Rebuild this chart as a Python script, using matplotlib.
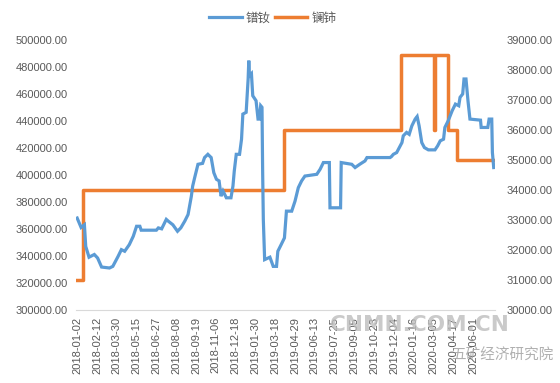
import matplotlib
matplotlib.use("Agg")
import matplotlib.pyplot as plt
from matplotlib.ticker import FuncFormatter, MultipleLocator

# ---- data (trading-day index, value) ----
pn_idx = [0, 6, 11, 13, 18, 26, 31, 37, 49, 54, 62, 67, 72, 79, 85, 90, 95, 97,
          120, 123, 128, 135, 138, 145, 152, 157, 163, 168, 173, 175, 178, 183,
          190, 193, 198, 203, 207, 211, 215, 218, 221, 226, 233, 236, 238, 241,
          246, 249, 251, 256, 259, 260, 261, 264, 266, 271, 274, 276, 278, 280,
          281, 282, 284, 292, 297, 302, 304, 309, 314, 317, 325, 330, 335, 340,
          345, 363, 368, 373, 382, 383, 399, 400, 416, 421, 428, 436, 439, 474,
          476, 479, 484, 488, 492, 494, 499, 503, 507, 512, 515, 518, 522, 526,
          532, 542, 546, 550, 555, 557, 562, 568, 573, 578, 580, 584, 586, 589,
          592, 595, 611, 612, 622, 624, 628, 629, 631]
pn_val = [368000, 361000, 363000, 347000, 339000, 341000, 338400, 331700, 331000,
          332200, 339600, 344600, 343400, 348300, 354500, 361900, 361900, 359000,
          359000, 360700, 360000, 367000, 365700, 363000, 358200, 360700, 365700,
          370600, 384200, 391700, 397900, 407800, 408500, 412800, 415200, 412800,
          401600, 396700, 395500, 384200, 388000, 383000, 383000, 391700, 402800,
          415200, 415200, 426400, 445000, 446300, 471000, 484600, 473500, 475000,
          458600, 454900, 441300, 441300, 451200, 450000, 401800, 367000, 337200,
          339000, 332200, 332200, 343400, 348300, 353300, 373100, 373100, 380500,
          390500, 395500, 399100, 400400, 404100, 409100, 409100, 375600, 375600,
          409100, 407800, 405400, 407800, 410300, 412800, 412800, 413500, 415200,
          416500, 420200, 423900, 428900, 431400, 430000, 436300, 441300, 443200,
          436300, 423900, 420200, 418500, 418500, 421400, 425200, 426400, 435100,
          440000, 447400, 452400, 451200, 457400, 459900, 471000, 471000, 454900,
          441300, 440500, 435100, 435100, 441300, 441300, 416500, 405400]

lc_idx = [0, 9, 314, 490, 541, 542, 561, 576, 631]
lc_val = [31000, 34000, 36000, 38500, 36000, 38500, 36000, 35000, 35000]

tick_labels = ["2018-01-02", "2018-02-12", "2018-03-30", "2018-05-15", "2018-06-27",
               "2018-08-08", "2018-09-19", "2018-11-06", "2018-12-18", "2019-01-30",
               "2019-03-18", "2019-04-29", "2019-06-13", "2019-07-25", "2019-09-05",
               "2019-10-23", "2019-12-04", "2020-01-16", "2020-03-05", "2020-04-17",
               "2020-06-01"]
tick_step = 30

series_names = ["镨钕", "镧铈"]

plt.rcParams['font.family'] = ['Liberation Sans', 'Noto Sans CJK SC', 'DejaVu Sans']

fig = plt.figure(figsize=(5.6, 3.83), dpi=100)
ax = fig.add_axes([0.136, 0.191, 0.748, 0.705])
ax2 = ax.twinx()

blue = "#5B9BD5"
orange = "#ED7D31"
l1, = ax.plot(pn_idx, pn_val, color=blue, lw=2.3, solid_joinstyle='miter', label=series_names[0])
l2, = ax2.plot(lc_idx, lc_val, color=orange, lw=2.5, drawstyle='steps-post', label=series_names[1])
ax.set_zorder(ax2.get_zorder() + 1)
ax.patch.set_visible(False)

ax.set_ylim(300000, 500000)
ax.yaxis.set_major_locator(MultipleLocator(20000))
ax2.set_ylim(30000, 39000)
ax2.yaxis.set_major_locator(MultipleLocator(1000))
fmt = FuncFormatter(lambda v, p: f"{v:.2f}")
ax.yaxis.set_major_formatter(fmt)
ax2.yaxis.set_major_formatter(fmt)

ax.set_xlim(-1.5, 633)
ax.set_xticks([i * tick_step for i in range(len(tick_labels))])
ax.set_xticklabels(tick_labels, rotation=90)

grey = "#595959"
for a in (ax, ax2):
    for s in a.spines.values():
        s.set_visible(False)
    a.tick_params(length=0, colors=grey, labelsize=8)
ax.spines['bottom'].set_visible(True)
ax.spines['bottom'].set_color("#D9D9D9")
ax.tick_params(axis='y', pad=6)
ax2.tick_params(axis='y', pad=8)
ax.tick_params(axis='x', pad=5)

fig.legend(handles=[l1, l2], loc='center', bbox_to_anchor=(0.487, 0.953), ncol=2,
           frameon=False, prop={'family': ['Noto Sans CJK SC'], 'size': 9},
           handlelength=2.6, columnspacing=0.35, handletextpad=0.3, labelcolor=grey)

# watermark
fig.text(0.75, 0.152, "CNMN.COM.CN", color="#BDBDBD", alpha=0.8, fontsize=15.5,
         fontweight='bold', ha='center', va='center', family=['DejaVu Sans'])
fig.text(0.897, 0.072, "五矿经济研究院", color="#A8A8A8", alpha=0.9, fontsize=10.5,
         ha='center', va='center', family=['Noto Sans CJK SC'])

fig.savefig("out.png", dpi=100)
